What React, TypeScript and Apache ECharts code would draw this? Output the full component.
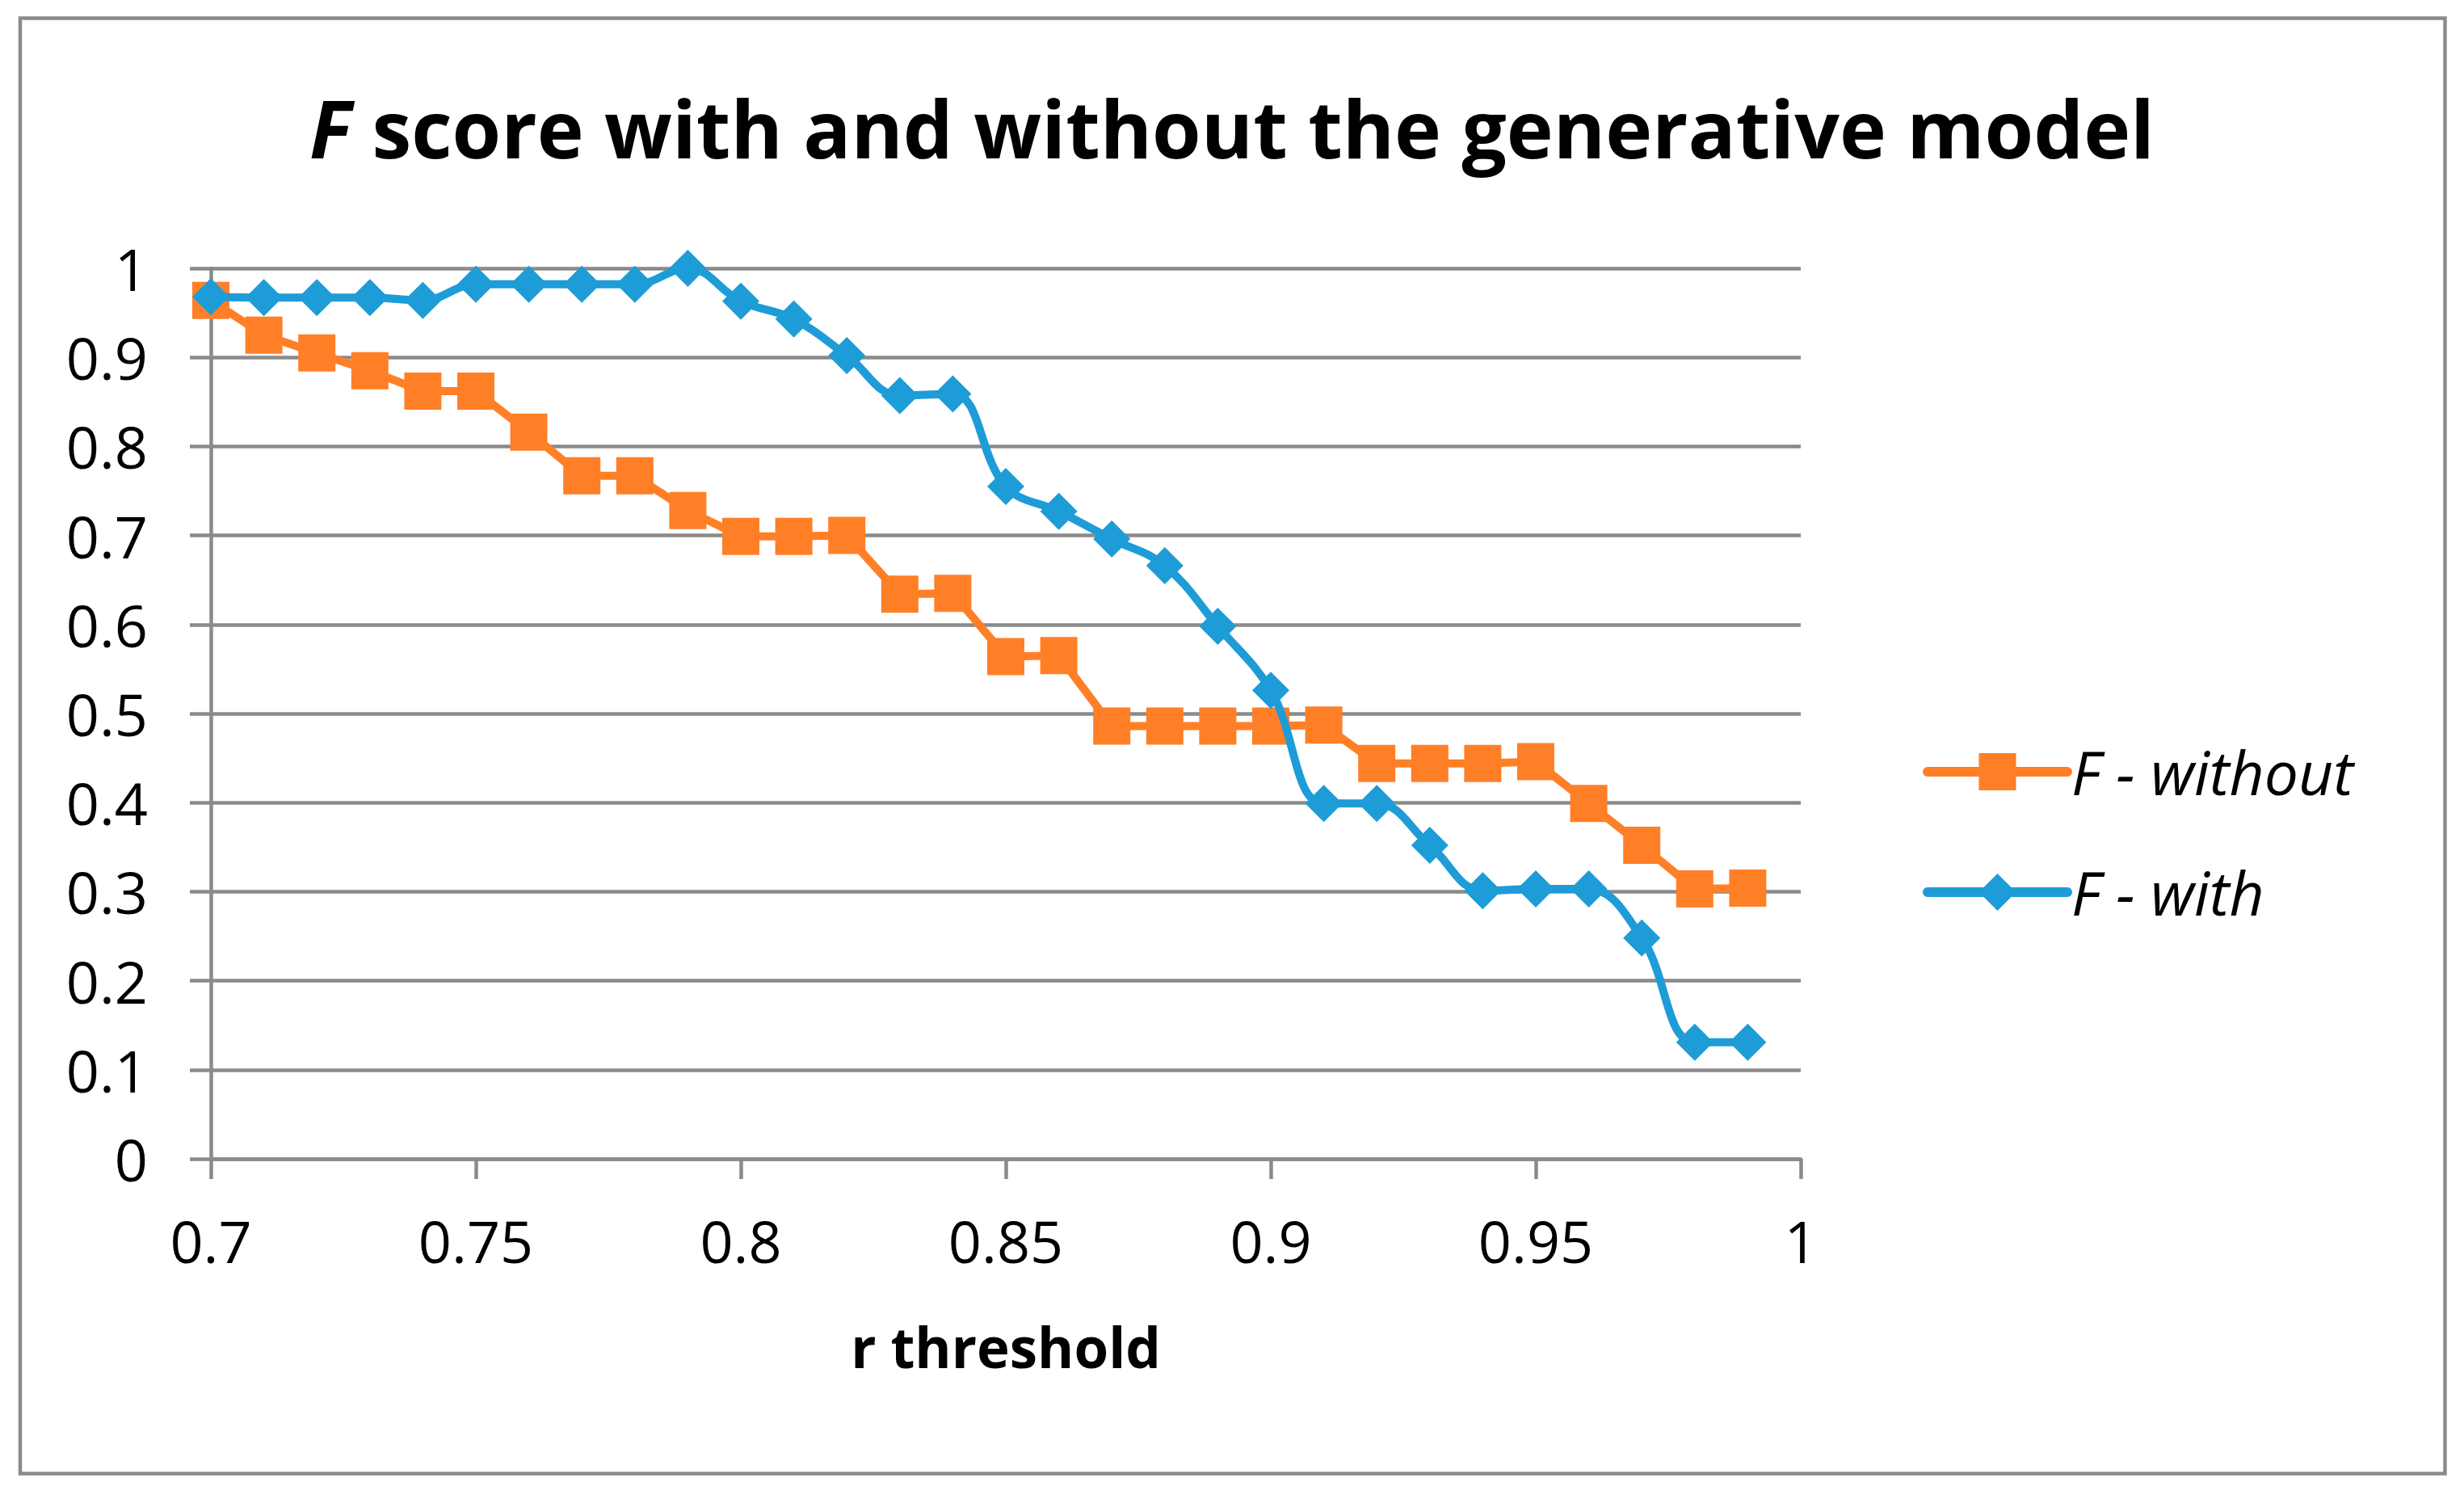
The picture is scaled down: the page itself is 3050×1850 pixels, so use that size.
import React, { useEffect, useRef } from "react";
import * as echarts from "echarts";

const thresholds = [
  0.7, 0.71, 0.72, 0.73, 0.74, 0.75, 0.76, 0.77, 0.78, 0.79,
  0.8, 0.81, 0.82, 0.83, 0.84, 0.85, 0.86, 0.87, 0.88, 0.89,
  0.9, 0.91, 0.92, 0.93, 0.94, 0.95, 0.96, 0.97, 0.98, 0.99,
];

const fWithout = [
  0.964, 0.925, 0.905, 0.885, 0.862, 0.862, 0.816, 0.767, 0.767, 0.728,
  0.699, 0.699, 0.7, 0.634, 0.635, 0.564, 0.565, 0.486, 0.486, 0.486,
  0.486, 0.487, 0.444, 0.444, 0.444, 0.446, 0.399, 0.352, 0.303, 0.304,
];

const fWith = [
  0.968, 0.967, 0.967, 0.967, 0.964, 0.982, 0.982, 0.982, 0.982, 1.0,
  0.963, 0.943, 0.902, 0.857, 0.859, 0.755, 0.727, 0.696, 0.666, 0.598,
  0.526, 0.399, 0.399, 0.352, 0.301, 0.303, 0.303, 0.248, 0.131, 0.131,
];

const seriesNames = ["F - without", "F - with"];
const titleText = "{i|F} score with and without the generative model";
const xAxisTitle = "r threshold";

const FONT = "Open Sans";
const GRAY = "#8a8a8a";
const ORANGE = "#FF7F27";
const BLUE = "#1E9CD7";

export default function App() {
  const ref = useRef<HTMLDivElement>(null);

  useEffect(() => {
    if (!ref.current) return;
    const chart = echarts.init(ref.current, null, { renderer: "svg" });
    chart.setOption({
      animation: false,
      backgroundColor: "#ffffff",
      title: {
        text: titleText,
        left: "center",
        top: 104,
        textStyle: {
          fontFamily: FONT,
          fontSize: 98,
          fontWeight: "bold",
          color: "#000",
          rich: {
            i: {
              fontFamily: FONT,
              fontSize: 98,
              fontWeight: "bold",
              fontStyle: "italic",
              color: "#000",
            },
          },
        },
      },
      graphic: [
        {
          type: "rect",
          silent: true,
          shape: { x: 25, y: 22.5, width: 3001.5, height: 1801 },
          style: { fill: "none", stroke: GRAY, lineWidth: 4.5 },
        },
      ],
      grid: { left: 261, right: 821, top: 332, bottom: 416, containLabel: false },
      legend: {
        orient: "vertical",
        left: 2375,
        top: 912,
        itemWidth: 173,
        itemHeight: 57.5,
        itemGap: 73,
        data: seriesNames,
        lineStyle: { width: 12, cap: "round" },
        textStyle: {
          fontFamily: FONT,
          fontSize: 75,
          lineHeight: 76,
          fontStyle: "italic",
          color: "#000",
        },
      },
      xAxis: {
        type: "value",
        min: 0.7,
        max: 1,
        interval: 0.05,
        name: xAxisTitle,
        nameLocation: "middle",
        nameGap: 197,
        nameTextStyle: {
          fontFamily: FONT,
          fontSize: 69,
          fontWeight: "bold",
          color: "#000",
        },
        axisLine: { show: true, lineStyle: { color: GRAY, width: 4.5 } },
        axisTick: { show: true, length: 25, lineStyle: { color: GRAY, width: 4.5 } },
        splitLine: { show: false },
        axisLabel: { margin: 65, fontFamily: FONT, fontSize: 72, color: "#000" },
      },
      yAxis: {
        type: "value",
        min: 0,
        max: 1,
        interval: 0.1,
        axisLine: { show: true, lineStyle: { color: GRAY, width: 4.5 } },
        axisTick: { show: true, length: 26, lineStyle: { color: GRAY, width: 4.5 } },
        splitLine: { show: true, lineStyle: { color: GRAY, width: 4.5 } },
        axisLabel: { margin: 78, fontFamily: FONT, fontSize: 72, color: "#000" },
      },
      series: [
        {
          name: seriesNames[0],
          type: "line",
          data: thresholds.map((x, i) => [x, fWithout[i]]),
          symbol: "rect",
          symbolSize: 46,
          showAllSymbol: true,
          lineStyle: { color: ORANGE, width: 10 },
          itemStyle: { color: ORANGE },
          z: 2,
        },
        {
          name: seriesNames[1],
          type: "line",
          smooth: 0.4,
          data: thresholds.map((x, i) => [x, fWith[i]]),
          symbol: "diamond",
          symbolSize: 46,
          showAllSymbol: true,
          lineStyle: { color: BLUE, width: 10 },
          itemStyle: { color: BLUE },
          z: 3,
        },
      ],
    });
    return () => chart.dispose();
  }, []);

  return (
    <div
      ref={ref}
      style={{ position: "fixed", left: 0, top: 0, width: 3050, height: 1850, background: "#fff" }}
    />
  );
}
